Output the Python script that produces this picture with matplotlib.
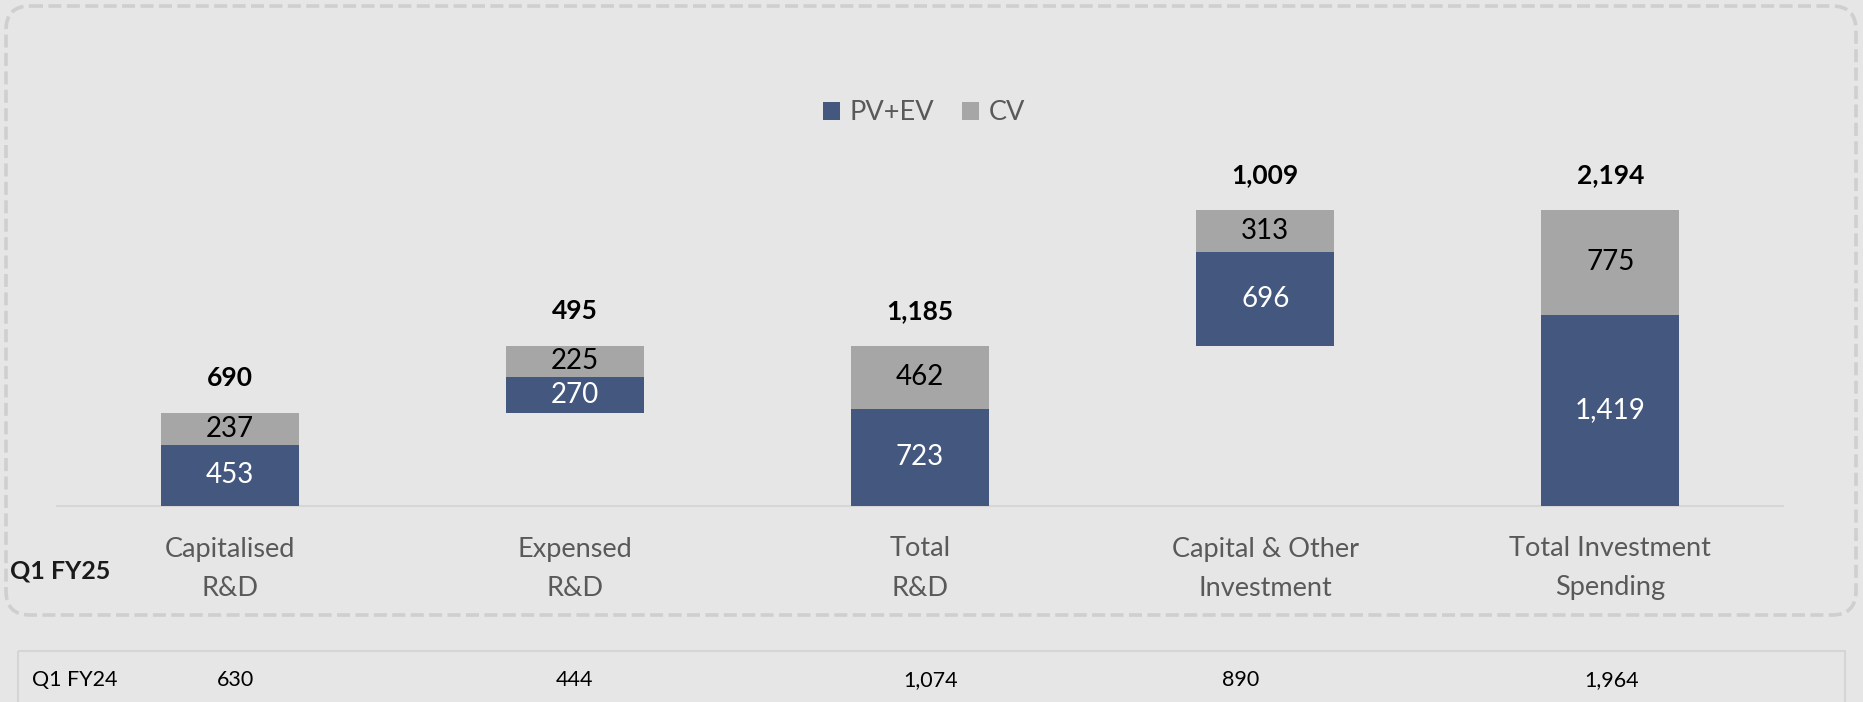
import matplotlib
matplotlib.use("Agg")
import matplotlib.pyplot as plt
import matplotlib.transforms as mtransforms
from matplotlib.patches import FancyBboxPatch, Rectangle

plt.rcParams['font.family'] = ['Lato', 'DejaVu Sans']

# Q1 FY25 investment breakdown
categories = ["Capitalised\nR&D", "Expensed\nR&D", "Total\nR&D",
              "Capital & Other\nInvestment", "Total Investment\nSpending"]
pv_ev = [453, 270, 723, 696, 1419]
cv = [237, 225, 462, 313, 775]
# Q1 FY24 comparison row
prior_year = [630, 444, 1074, 890, 1964]

totals = [a + b for a, b in zip(pv_ev, cv)]
# waterfall: expensed sits on top of capitalised, capital & other on top of total R&D
offsets = [0, totals[0], 0, totals[2], 0]

BLUE = '#44587f'
GREY = '#a6a6a6'
BG = '#e6e6e6'
W, H = 1863, 702

fig = plt.figure(figsize=(W / 100, H / 100), dpi=100, facecolor=BG)

# pixel-space layer for frames and free text
bg = fig.add_axes([0, 0, 1, 1])
bg.set_xlim(0, W)
bg.set_ylim(H, 0)
bg.axis('off')
bg.add_patch(FancyBboxPatch((6, 6), 1850, 609,
                            boxstyle="round,pad=0,rounding_size=24",
                            fc='none', ec='#cfcfcf', lw=2.6,
                            ls=(0, (3.6, 1.5))))
bg.add_patch(Rectangle((18, 651), 1827, 60, fc='none', ec='#d5d5d5', lw=1.5))

# bar chart
base_px = 506
px_per_unit = 0.1348
ymax = 3000
ax = fig.add_axes([57 / W, (H - base_px) / H, (1783 - 57) / W, ymax * px_per_unit / H])
ax.set_facecolor('none')
x = list(range(len(categories)))
ax.bar(x, pv_ev, width=0.4, bottom=offsets, color=BLUE, label='PV+EV', zorder=3)
ax.bar(x, cv, width=0.4, bottom=[o + p for o, p in zip(offsets, pv_ev)],
       color=GREY, label='CV', zorder=3)
ax.set_xlim(-0.5, 4.5)
ax.set_ylim(0, ymax)
for s in ['top', 'left', 'right']:
    ax.spines[s].set_visible(False)
ax.spines['bottom'].set_color('#d6d6d6')
ax.spines['bottom'].set_linewidth(1.5)
ax.set_xticks([])
ax.set_yticks([])

for i in x:
    ax.text(i, offsets[i] + pv_ev[i] / 2, f"{pv_ev[i]:,}", ha='center', va='center',
            color='white', fontsize=20, zorder=4)
    ax.text(i, offsets[i] + pv_ev[i] + cv[i] / 2, f"{cv[i]:,}", ha='center', va='center',
            color='black', fontsize=20, zorder=4)
    ax.annotate(f"{totals[i]:,}", (i, offsets[i] + totals[i]), xytext=(0, 25.2),
                textcoords='offset points', ha='center', va='center',
                fontsize=19, fontweight='bold', color='black')

# category labels under the axis
trans = mtransforms.blended_transform_factory(ax.transData, bg.transData)
for i, lab in enumerate(categories):
    l1, l2 = lab.split("\n")
    ax.text(i, 549, l1, transform=trans, ha='center', va='center', fontsize=19.5, color='#595959')
    ax.text(i, 588, l2, transform=trans, ha='center', va='center', fontsize=19.5, color='#595959')

bg.text(10, 571, "Q1 FY25", ha='left', va='center', fontsize=18, fontweight='bold', color='#1a1a1a')

# prior year row
col_px = [236, 574, 931, 1241, 1612]
bg.text(32, 680, "Q1 FY24", ha='left', va='center', fontsize=15.5, color='black')
for cx, v in zip(col_px, prior_year):
    bg.text(cx, 680, f"{v:,}", ha='center', va='center', fontsize=15.5, color='black')

ax.legend(ncol=2, loc='center', bbox_to_anchor=(924 / W, 1 - 113 / H),
          bbox_transform=fig.transFigure, frameon=False, fontsize=19.5,
          handlelength=0.65, handleheight=0.65, handletextpad=0.35,
          columnspacing=1.0, labelcolor='#595959')

fig.savefig('out.png', dpi=100, facecolor=BG)
